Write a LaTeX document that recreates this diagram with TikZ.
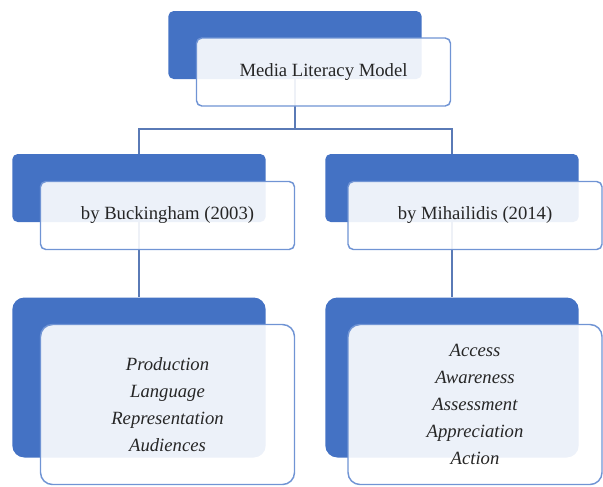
\documentclass[tikz,border=0pt]{standalone}
\usepackage{fontspec}
\setmainfont{Liberation Serif}
\usepackage{xcolor}
\usepackage{tikz}
\usetikzlibrary{positioning, calc}

\definecolor{backblue}{HTML}{4472C4}
\definecolor{edgeblue}{HTML}{7094D4}
\definecolor{linkblue}{HTML}{5A7AB6}

\begin{document}
\begin{tikzpicture}[
    x=0.75pt, y=-0.75pt,
    backbox/.style={rectangle, fill=backblue, rounded corners=4pt, minimum width=190pt, minimum height=51pt, inner sep=0pt},
    frontbox/.style={rectangle, fill=white, fill opacity=0.9, text opacity=1, draw=edgeblue, line width=1.1pt, rounded corners=4pt, minimum width=190.5pt, minimum height=51pt, inner sep=0pt, align=center, font=\fontsize{14}{20}\selectfont, text=black!85},
    bigbox/.style={minimum height=120pt, rounded corners=9pt},
    link/.style={draw=linkblue, line width=1.5pt}
]
    \useasboundingbox (0,0) rectangle (603,486);

    % back layer
    \node[backbox] (topback) at (295,45) {};
    \node[backbox] (buckback) at (139,188) {};
    \node[backbox] (mihback) at (452,188) {};
    \node[backbox, bigbox] (buckitemsback) at (139,377.5) {};
    \node[backbox, bigbox] (mihitemsback) at (452,377.5) {};

    % connectors
    \coordinate (split) at (295,129);
    \draw[link] (topback.south) -- (split) -| (buckback.north);
    \draw[link] (split) -| (mihback.north);
    \draw[link] (buckback.south) -- (buckitemsback.north);
    \draw[link] (mihback.south) -- (mihitemsback.north);

    % front layer
    \node[frontbox] (top) at (323.5,72) {Media Literacy Model};
    \node[frontbox] (buck) at (167.5,215.5) {by Buckingham (2003)};
    \node[frontbox] (mih) at (475,215.5) {by Mihailidis (2014)};
    \node[frontbox, bigbox, font=\fontsize{14}{20.3}\selectfont\itshape] (buckitems) at (167.5,404.5) {Production\\Language\\Representation\\Audiences};
    \node[frontbox, bigbox, font=\fontsize{14}{20.3}\selectfont\itshape] (mihitems) at (475,404.5) {Access\\Awareness\\Assessment\\Appreciation\\Action};
\end{tikzpicture}
\end{document}
